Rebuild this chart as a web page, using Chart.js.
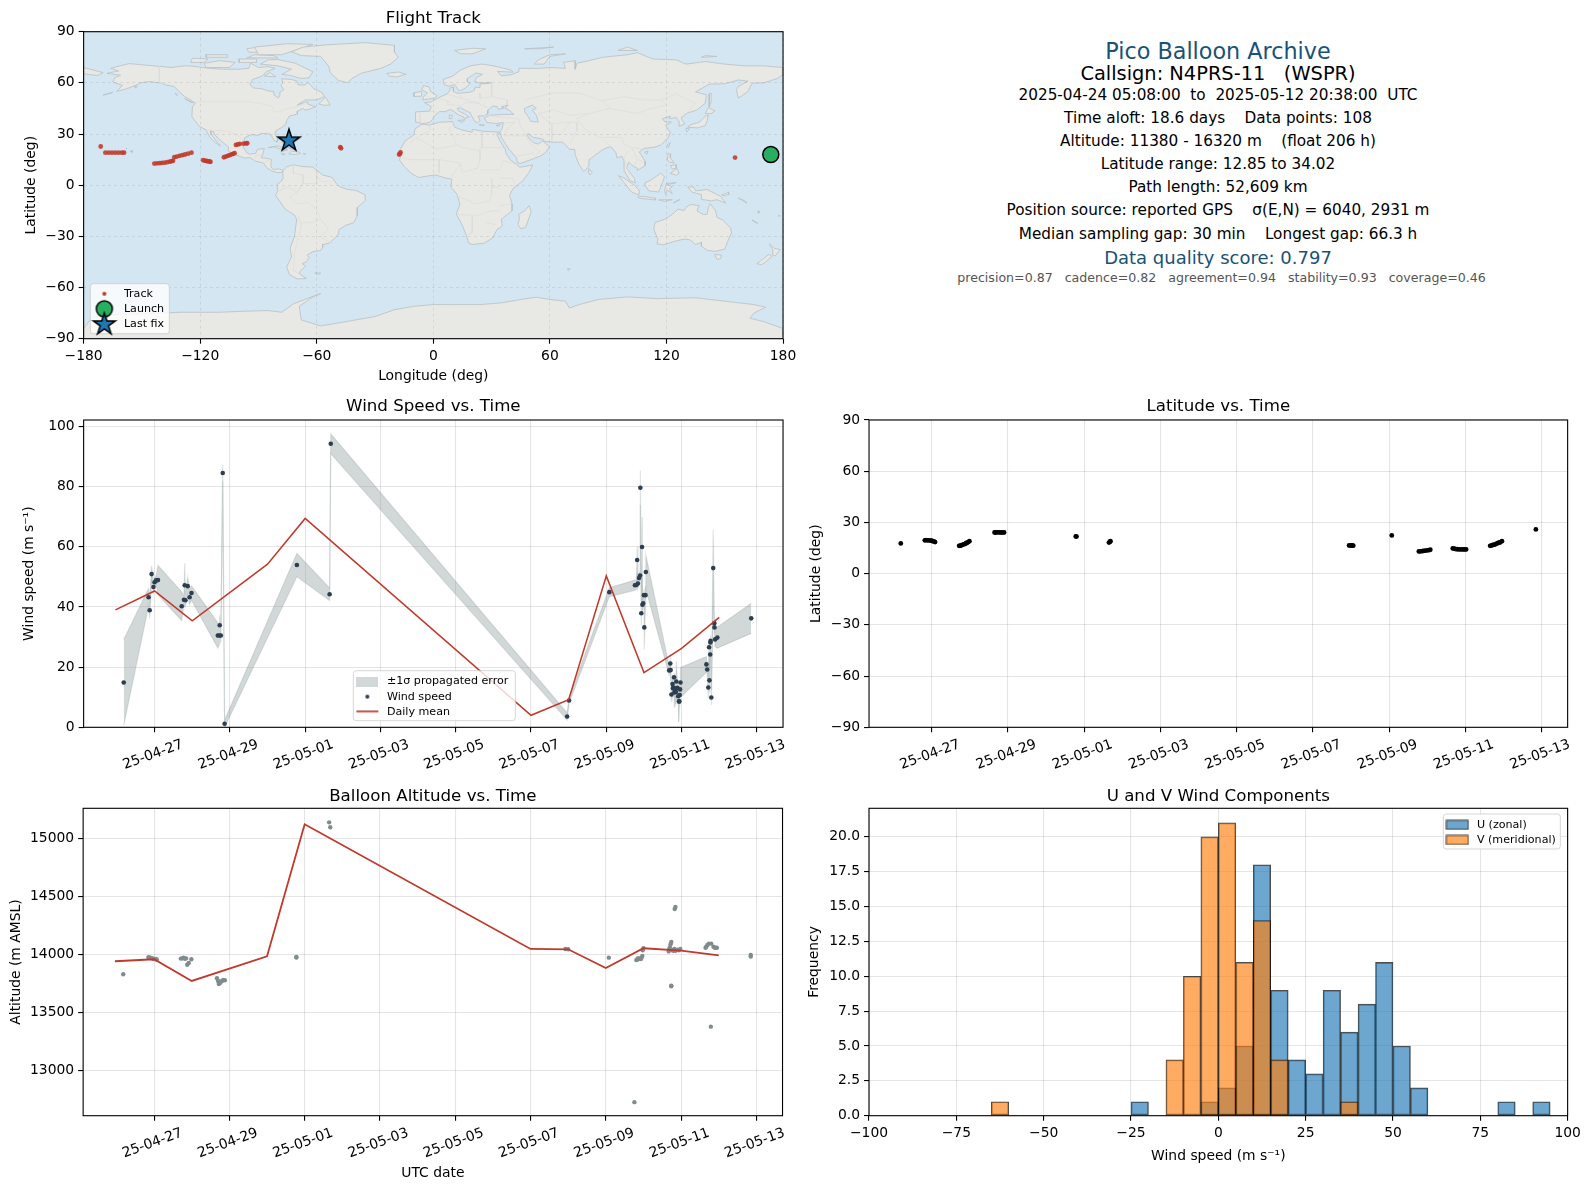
<!DOCTYPE html>
<html><head><meta charset="utf-8">
<style>
html,body{margin:0;padding:0;background:#fff;width:1589px;height:1189px;overflow:hidden;font-family:"DejaVu Sans",sans-serif}
canvas{position:absolute}
.t{position:absolute;left:1218px;transform:translate(-50%,-50%);white-space:pre;color:#000;font-size:15.28px}
</style>
<script src="https://cdn.jsdelivr.net/npm/chart.js@4/dist/chart.umd.min.js"></script>
</head><body>
<div class="t" style="top:50.5px;font-size:22.3px;color:#1a5276">Pico Balloon Archive</div>
<div class="t" style="top:73px;font-size:19.4px">Callsign: N4PRS-11   (WSPR)</div>
<div class="t" style="top:95px">2025-04-24 05:08:00  to  2025-05-12 20:38:00  UTC</div>
<div class="t" style="top:118px">Time aloft: 18.6 days    Data points: 108</div>
<div class="t" style="top:141.3px">Altitude: 11380 - 16320 m    (float 206 h)</div>
<div class="t" style="top:164px">Latitude range: 12.85 to 34.02</div>
<div class="t" style="top:187px">Path length: 52,609 km</div>
<div class="t" style="top:210px">Position source: reported GPS    σ(E,N) = 6040, 2931 m</div>
<div class="t" style="top:233.5px">Median sampling gap: 30 min    Longest gap: 66.3 h</div>
<div class="t" style="top:256.8px;font-size:18px;color:#1a5276">Data quality score: 0.797</div>
<div class="t" style="top:277.3px;left:1221.5px;font-size:12.6px;color:#555">precision=0.87   cadence=0.82   agreement=0.94   stability=0.93   coverage=0.46</div>
<canvas id="cMap"></canvas><canvas id="cWind"></canvas><canvas id="cLat"></canvas><canvas id="cAlt"></canvas><canvas id="cHist"></canvas>
<script>
/* ---------- data ---------- */
const timeTickDays=[0,2,4,6,8,10,12,14,16];
const timeTickLabels=['25-04-27','25-04-29','25-05-01','25-05-03','25-05-05','25-05-07','25-05-09','25-05-11','25-05-13'];
const meanDays=[-1.04,0,1,3,4,10,11,12,13,14,15];
const windMean=[39,45.3,35.4,54.2,69.4,4.0,9.2,50.3,18.2,26.2,36.5];
const altMean=[13940,13957,13770,13983,15121,14046,14043,13882,14052,14032,13991];

const windDays=[-.82,-.16,-.13,-.08,-.03,0,.04,.09,.72,.78,.80,.82,.88,.93,.98,1.68,1.72,1.73,1.76,1.81,1.86,3.78,4.65,4.68,10.96,11.01,12.08,12.76,12.80,12.82,12.84,12.87,12.90,12.905,12.93,12.95,12.96,12.98,13.0,13.01,13.04,13.05,13.67,13.70,13.71,13.73,13.76,13.77,13.79,13.795,13.80,13.81,13.83,13.85,13.86,13.89,13.91,13.93,13.94,13.95,13.96,13.97,14.66,14.68,14.71,14.73,14.74,14.76,14.765,14.77,14.79,14.84,14.87,14.875,14.89,14.95,15.85];
const windSpeed=[14.9,43.2,38.9,50.9,46.6,48.2,48.8,48.9,40.2,42.4,47.2,42.2,46.9,43.2,44.6,30.5,30.5,33.9,30.5,84.5,1.2,53.9,44.2,94.2,3.6,8.9,44.9,47.2,47.3,55.6,47.8,49.6,50.4,79.6,37.9,59.9,40.7,41.2,43.9,33.2,43.9,51.6,18.9,21.2,19,10.9,14.4,13,13,13.1,16.6,11.6,12.6,11.7,15.2,13.1,10.3,8.6,8.6,10.7,12.6,14.9,20.9,19.2,13.2,26.6,15.6,24.2,28.2,28.7,9.9,52.9,34.6,33.2,29.2,29.8,36.2];
const windSigma=[14.3,3,2.5,2.8,2,1.5,1.5,4.9,4.8,1.5,7.3,2,3,2.5,2.4,4.2,3,3.3,2.5,2.8,1.2,3.9,2.1,3.3,1.2,1,1.5,1.7,1.5,4.5,1.5,1.5,1.5,5.7,4,10,2,2,2,7.4,3,5.7,1.5,1.5,1.5,2.5,3,3,2,2,1.5,5,2,4,7,2,2,6.8,2,2,2,5,2.6,1.5,3.5,1.5,4,2,2,2,2.5,12.7,2,2,2.5,3.5,5];

const latDays=[-.81,-.18,-.15,-.11,-.07,-.03,0,.02,.06,.09,.72,.75,.78,.80,.84,.88,.90,.93,.96,.99,1.65,1.68,1.72,1.76,1.8,1.85,1.9,3.78,3.8,4.65,4.68,4.69,10.95,11.0,11.03,11.06,12.07,12.78,12.82,12.87,12.9,12.95,13.0,13.05,13.08,13.67,13.71,13.75,13.79,13.84,13.89,13.94,13.98,14.02,14.65,14.69,14.72,14.76,14.8,14.84,14.88,14.92,14.96,15.85];
const latDeg=[17.7,19.5,19.6,19.5,19.5,19.4,19.3,19,18.9,18.5,16.3,16.4,16.6,16.8,17.1,17.5,17.8,18.1,18.5,19,24.1,24.1,24.2,24.2,24.1,24.1,24.1,21.8,21.7,18.2,18.7,19,16.5,16.5,16.5,16.4,22.4,13,13,13.2,13.3,13.5,13.6,13.8,14,14.8,14.6,14.4,14.3,14.2,14.2,14.2,14.2,14.2,16.3,16.5,16.8,17,17.3,17.8,18.1,18.4,19,25.9];

const altDays=[-.82,-.15,-.12,-.08,-.04,-.01,.03,.05,.07,.71,.75,.78,.82,.85,.88,.92,.99,1.67,1.7,1.72,1.76,1.8,1.84,1.88,3.78,3.78,4.65,4.68,11,10.93,12.08,12.76,12.81,12.84,12.87,12.9,12.93,12.95,12.97,12.85,12.98,13,13.74,13.72,13.7,13.68,13.67,13.76,13.8,13.82,13.85,13.9,13.94,13.98,13.85,13.83,13.74,13.74,14.65,14.67,14.7,14.74,14.8,14.86,14.9,14.95,14.79,15.85,15.85];
const altMeters=[13828,13975,13972,13968,13965,13960,13960,13958,13955,13963,13965,13970,13962,13965,13910,13925,13957,13793,13770,13744,13755,13770,13778,13776,13977,13972,15138,15095,14043,14045,13971,12725,13950,13955,13960,13965,13960,13970,13985,13965,14034,14052,14106,14086,14060,14040,14025,14035,14030,14045,14030,14040,14035,14045,14408,14390,13724,13730,14057,14065,14080,14092,14092,14065,14057,14057,13376,13980,13995];

const trackLon=[-171.2,-168.8,-167.1,-165.4,-163.7,-162,-160.3,-159.2,-143.6,-142.2,-140.8,-139.6,-138.2,-136.9,-135.6,-134.8,-134,-133.3,-132,-130.6,-129.2,-127.8,-126.2,-124.5,-118.5,-117.6,-116.8,-116,-115.2,-114.7,-107.8,-106.8,-105.8,-104.8,-103.8,-103,-102.3,-101.6,-100.6,-99.6,-97.6,-96.4,-95.8,-47.9,-47.5,-17.6,-17.2,-16.9,155.3];
const trackLat=[22.7,19.1,19.1,19.1,19.1,19.1,19.1,19.1,12.7,12.8,12.9,13.1,13.2,13.5,13.8,14.1,14.3,16.4,16.8,17.2,17.6,18,18.5,19.1,14.7,14.4,14.2,14,13.9,13.7,16.4,16.8,17.2,17.6,18.1,18.4,18.8,23.6,23.9,24.2,24.4,24.5,24.6,22.3,21.6,18,18.5,19.2,16.2];
const launchLon=[173.7],launchLat=[18];
const lastLon=[-74.3],lastLat=[26.4];

const binCenters=[];
for(let e=-100;e<100;e+=5)binCenters.push(e+2.5);
const uCounts=[0,0,0,0,0,0,0,0,0,0,0,0,0,0,0,1,0,0,0,1,2,5,18,9,4,3,9,6,8,11,5,2,0,0,0,0,1,0,1,0];
const vCounts=[0,0,0,0,0,0,0,1,0,0,0,0,0,0,0,0,0,4,10,20,21,11,14,4,0,0,0,1,0,0,0,0,0,0,0,0,0,0,0,0];

const mapTicksX=[-180,-120,-60,0,60,120,180];
const mapTicksY=[-90,-60,-30,0,30,60,90];
const windTicks=[0,20,40,60,80,100];
const altTicks=[13000,13500,14000,14500,15000];
const histTicksX=[-100,-75,-50,-25,0,25,50,75,100];
const histTicksY=[0,2.5,5,7.5,10,12.5,15,17.5,20];

/* land and sea outlines, lon/lat */
const northAmerica=[[-168,65.6],[-164,66.5],[-162,67],[-166,68.5],[-163,69.5],[-156.5,71.3],[-148,70.4],[-141,69.7],[-135,69],[-128,70],[-124,69.8],[-115,68.5],[-108,68],[-100,68],[-95,68.5],[-94,71.5],[-90,69],[-85,69.5],[-81.5,68.5],[-86,66.5],[-88,64],[-93,62],[-94.5,59],[-92.5,57],[-88,56.5],[-85,55.3],[-82.2,55],[-82,52.9],[-80,51.3],[-79,52],[-79,54.5],[-77,56],[-78.5,58.7],[-77.5,60],[-78,62.4],[-73,62],[-70,61],[-69.5,58.8],[-66,58.8],[-64.5,60.3],[-61.5,56.5],[-57.5,54.5],[-56,52],[-60,50],[-66,50],[-70,47],[-65,49],[-64.5,47.5],[-60.5,46],[-64,44.5],[-66,44],[-67,45],[-70,43.5],[-70,41.7],[-74,40.6],[-75.5,38],[-76,35.5],[-78,33.9],[-81,32],[-81.5,30],[-80,27],[-80.3,25.3],[-81.8,26],[-82.8,28],[-84,30],[-86,30.4],[-89,30.2],[-90,29.2],[-93.5,29.7],[-97,28],[-97.5,25],[-97.8,22.3],[-96,19],[-94.5,18.2],[-91.5,18.6],[-90.5,21],[-87,21.5],[-87.8,18.2],[-88.7,16],[-86,15.9],[-83.3,15],[-83.7,11],[-82.5,9.2],[-79.5,9.6],[-77.3,8.6],[-78,7.5],[-80.3,7.3],[-83,8.3],[-85.5,10],[-87.5,13],[-91.5,14],[-94.5,16.2],[-97,15.9],[-101.5,17.6],[-105.5,20],[-105.5,22.5],[-109,25.7],[-112.5,29.5],[-113,31.3],[-114.8,31.8],[-114.5,30],[-111.5,25.5],[-109.5,23],[-112,24.8],[-115,28],[-117,32.5],[-120.5,34.5],[-122.5,37.5],[-124.3,40.3],[-124,46],[-122.5,48],[-125,50],[-128,52],[-130.5,54.5],[-133.5,58],[-137,58.5],[-140,59.8],[-146,60.8],[-151,60],[-152,59],[-154,58.2],[-158,56.5],[-163,55],[-160,58.5],[-165,60.5],[-164,63],[-161,64.5],[-168,65.6]];
const southAmerica=[[-77.3,8.6],[-75.5,10.8],[-72,12],[-68,11],[-62,10.6],[-57,6],[-52,4.5],[-50,1],[-48,-1],[-44,-2.5],[-40,-3],[-35.2,-5.5],[-35,-9],[-39,-13],[-39.2,-18],[-41,-22],[-45,-23.5],[-48.5,-26],[-49,-29],[-53.5,-34],[-57,-34.8],[-57,-36.5],[-58,-38.3],[-62,-39],[-65,-41],[-63.8,-42.5],[-65.5,-45],[-67.5,-46],[-65.8,-47.5],[-69,-51],[-68.3,-52.5],[-65.3,-54.7],[-70,-55],[-74,-52.5],[-75.5,-48],[-73,-42],[-73.7,-37],[-71.5,-30],[-70.3,-20],[-71.5,-17.5],[-76.3,-14],[-81.2,-6],[-80,-3],[-80.5,0.5],[-78.5,2],[-77.3,4],[-77.5,7],[-77.3,8.6]];
const africa=[[-5.9,35.8],[-2,35.2],[3,36.9],[10,37.3],[11,34],[15,32.3],[20,31],[20,32.8],[25,31.7],[32,31.2],[34.2,31],[32.6,29.9],[34,26.5],[37,21],[37.5,18.5],[39.5,15],[43,12],[44.5,10.5],[51.2,11.8],[49,7],[45.5,2],[41,-2],[39.2,-6],[40.5,-11],[40.5,-15],[35,-20],[35.5,-24],[32.8,-26],[30.5,-31],[26,-34],[20,-34.8],[18.3,-34],[17,-29.5],[14.5,-22.5],[11.8,-17],[13.7,-11],[12,-5],[9,-1],[9.5,3.5],[6,4.3],[1,6],[-4,5.2],[-7.5,4.5],[-11.5,7],[-15,11],[-17.4,14.7],[-16.3,19.5],[-17,21],[-14.5,26],[-10,29.5],[-9.5,33],[-5.9,35.8]];
const eurasia=[[-5.5,36.1],[-9,37],[-9.3,39],[-9,43],[-2,43.4],[-1,46],[-4.5,48.4],[-1.5,48.7],[1.5,50.5],[4,52],[7,53.5],[8.5,55.5],[8.5,57],[10.5,57.5],[10.3,55],[12,54],[14,54],[19,54.5],[21,55.5],[21.5,57.5],[24,57.2],[24,59.3],[30,60],[23,60],[21.3,61],[22,63],[25.3,65],[22,65.8],[17.5,62.5],[17.5,60.5],[19,59.7],[16.5,57],[14.3,55.5],[12.8,55.8],[11,59],[8,58],[5.5,59],[5,62],[10,64],[14,67.5],[19,70],[25,71],[31,70],[40,67.5],[41,66.3],[33,66.7],[35,64.2],[40,64.7],[44,66.5],[44,68.5],[54,68.5],[60,69],[68,68.5],[67,72],[73,73],[73,68],[74,71.5],[80,73],[87,75],[100,76.5],[105,77.7],[113,74],[125,73.5],[130,71],[140,72.5],[150,71],[160,70],[170,70],[180,69],[180,65],[177,62.5],[170,60],[164,59.8],[163,57.5],[162,55],[157,51],[156,56],[157,58],[162,61],[157,61.7],[150,59.5],[142,59.2],[135,54.7],[140.5,53],[140,48],[135.5,44],[130.7,42.3],[127.5,39.5],[129.4,36],[126.5,34.5],[126.5,37.5],[125,39.7],[121.5,39],[122,40.5],[118,39],[119,37.3],[122.5,37],[119.5,35],[122,31],[121,28],[117,23.5],[113.5,22.2],[108.5,21.6],[106,19.5],[109,14],[109,11.5],[105,8.7],[105,10],[103,11],[100.5,13.5],[99.5,10],[103.5,4],[104,1.3],[101,3],[98.5,8],[98.2,14],[97,17],[94.5,16],[94,19],[91.5,22.5],[89,21.8],[86.7,20.5],[82.3,16.7],[80.2,15],[80,11],[77.5,8],[75,12],[73,18],[72.7,21],[70,21],[68,23.7],[66.5,25.3],[61.5,25.2],[57,25.8],[56.5,27],[51.5,28],[48.8,30.3],[48,29.5],[50,26.5],[51.5,25],[54,24.1],[56.3,26],[59.8,22.5],[57.7,19],[55,17],[52,15.7],[45,12.8],[43.3,13],[42.8,16],[39,21],[35,28],[34.8,29.5],[34.2,31],[35.5,33.5],[36,36.7],[32,36.2],[27.5,36.8],[26.3,39.5],[29,41],[31.3,41.2],[36,41.5],[41.5,41.5],[39,44],[37,45.2],[38.5,47],[35,46],[36.5,45.2],[33.5,44.5],[33,46],[30.7,46.5],[28,44],[28,41.8],[26,40.7],[23,40.5],[24,38],[22.8,36.5],[21.3,37.5],[19.5,41],[19,42.5],[13.7,45.5],[12.3,45],[13,43.5],[16,41.8],[18.4,40],[16.5,39.5],[16,38],[15.6,40],[12.5,41.5],[10.3,43.5],[8.7,44.4],[6,43.1],[3.3,43.2],[0.5,40.5],[-0.3,38.5],[-2,36.8],[-5.5,36.1]];
const chukotka=[[-180,69],[-175,67.5],[-170,66],[-173,64.3],[-180,65.3],[-180,69]];
const australia=[[114,-22],[113.5,-26],[115.7,-32],[115,-34.3],[118,-35],[124,-33],[129,-31.6],[132,-32],[135,-34.8],[138,-33.5],[138,-35.7],[141,-38.2],[145,-38.8],[150,-37.5],[151.5,-33],[153.5,-28],[153,-25],[149,-20.5],[146,-18.8],[145.3,-15],[142.5,-10.8],[141.5,-13],[141,-17],[139,-17.2],[135.7,-15],[136.8,-12],[132.5,-11.3],[130,-13],[129,-15],[126,-14],[122.5,-17.5],[119,-20],[114,-22]];
const greenland=[[-73,78.2],[-67,81],[-55,82.3],[-35,83.6],[-20,82],[-20,78],[-18,75],[-22,71],[-27,68.5],[-37,65.7],[-42,62.5],[-44,60],[-49,61.5],[-53,66],[-54,70],[-58,75.5],[-68,76],[-73,78.2]];
const antarctica=[[-180,-84],[-176,-78],[-170,-76],[-150,-75.5],[-130,-74.5],[-110,-74.5],[-100,-74],[-85,-73.5],[-78,-74.5],[-72,-69.5],[-58,-63.5],[-62,-65.5],[-69,-71],[-68,-79],[-58,-82.5],[-45,-80],[-30,-77],[-20,-73],[-10,-71],[0,-70],[10,-70],[24,-70],[35,-69],[45,-67],[53,-65.7],[60,-67],[68,-68],[70,-72],[75,-70],[85,-67],[100,-65.5],[115,-66.5],[135,-66],[150,-68],[165,-70],[171,-71.5],[165,-75],[163,-78],[170,-80],[180,-84],[180,-90],[-180,-90],[-180,-84]];
const islands=[
[[49.3,-12],[50.4,-15.5],[47.5,-24.8],[45,-25.5],[43.5,-23],[44.3,-20],[44,-17],[47,-15]],
[[-5.5,50],[1.3,51.2],[1.7,52.7],[-1.5,55],[-2,57.5],[-5,58.5],[-6,56],[-3,54],[-5,52]],
[[-10,52],[-6,52.2],[-6,55],[-10,54.2]],
[[-24,65.5],[-18,66.4],[-14,65],[-19,63.4],[-22.5,64]],
[[130.9,34],[136,33.6],[140,35],[141,38],[141.5,41.2],[140,40.5],[137,37],[132.5,35.5]],
[[140,42],[141.5,45.5],[145,43.5],[143,42]],
[[130,33.5],[131.8,33],[130.5,31.2]],
[[142,46],[143,49],[143,54],[142,53.5]],
[[121,22],[122,25],[120.2,23.5]],
[[108.7,19.3],[110.5,20],[110,18.3]],
[[80,9.8],[81.8,7.5],[80.5,6],[79.8,8]],
[[120.3,16],[120.7,18.5],[122.2,18.3],[122,16],[124,13],[121,13.8]],
[[122,7],[125.5,9.7],[126.5,7],[125,5.8]],
[[122,11.5],[125,12],[125,10],[123,9.5]],
[[109,1.5],[111.5,2.7],[114,4.6],[117,7],[119,5],[117.7,1],[116,-4],[111,-3.3],[109.2,-.5]],
[[95.3,5.6],[98,4.3],[103.5,0],[106,-3],[105.8,-5.8],[102,-4],[98.5,1]],
[[105.2,-6.8],[108.5,-6.6],[114.5,-7.7],[114.3,-8.7],[106,-7.6]],
[[119.5,-5.5],[120.5,-2.8],[123,-5],[121.5,-2],[123,-1],[120.5,.3],[125,1.5],[120,1],[119,-3]],
[[131,-1],[134,-1],[135,-3.3],[141,-2.6],[146,-5.5],[147.8,-6.5],[150.5,-10.5],[146,-8.5],[143,-9.2],[138,-8.3],[138,-5.5],[133,-4]],
[[116,-8.6],[119,-8.5],[123,-8.5],[119,-9.5]],
[[123.6,-10.3],[127,-8.4],[125,-9.5]],
[[148.5,-5.6],[152,-4.2],[152,-5.5],[149,-6.2]],
[[157,-7.5],[160,-9],[161.5,-10.5],[159,-9]],
[[164,-20.2],[167,-22.3],[165.5,-21.8]],
[[173,-34.5],[175.5,-37],[178.5,-37.8],[176,-41.5],[174.8,-41],[174.7,-38]],
[[172.7,-40.6],[174.3,-41.7],[171,-45],[169,-46.6],[166.5,-46],[170,-43]],
[[144.7,-40.7],[148.3,-40.9],[147.8,-43.2],[146,-43.5]],
[[69,-49],[70.5,-49],[69.5,-50]],
[[-61,-51.5],[-58,-51.5],[-59,-52.3]],
[[-85,22],[-80,23.1],[-75,20.7],[-77.5,19.9],[-78,21],[-82,22.5]],
[[-74.4,18.4],[-73,19.9],[-69,19.5],[-68.4,18.6],[-71,18]],
[[-78.3,18.4],[-76.3,18.2],[-77,17.8]],
[[-67,18.5],[-65.6,18.3],[-66.5,18]],
[[-78,25],[-77,26.5],[-76,24.5]],
[[-75,22.5],[-73,21],[-74,21.5]],
[[-59,47.7],[-55.5,51.6],[-53,47],[-56,46.8]],
[[-128,50.7],[-123.5,48.4],[-125,48.7]],
[[-133,54],[-131.5,53],[-132,52.5]],
[[-80,73.7],[-71,71.5],[-62,66.5],[-64,63],[-68,62.5],[-74,64.5],[-78,65],[-73,68],[-80,70],[-89,71],[-85,73.5]],
[[-117,69],[-105,69],[-102,72],[-110,73],[-118,71.5]],
[[-125,72],[-118,72],[-116,74],[-124,74.5]],
[[-90,76.5],[-78,76.5],[-62,82.5],[-75,83],[-92,81]],
[[-96,74.7],[-80,74.6],[-82,76],[-92,76.5]],
[[-117,75],[-106,75],[-106,76.5],[-117,76.5]],
[[-95,78],[-88,78],[-90,81],[-96,80]],
[[-87,64],[-81,63.5],[-84,66]],
[[-100,72],[-91,72],[-91,74],[-100,74]],
[[11,79],[20,80.3],[27,80],[20,77],[14,77]],
[[52,71],[57,71],[60,75.5],[68,77],[60,76.5],[54,73.5]],
[[95,79],[105,79],[100,81]],
[[138,75],[146,75.5],[140,76]],
[[47,80],[62,81],[55,80]],
[[-156,19.8],[-155,20.2],[-155,19.3]],
[[-158.2,21.5],[-157.7,21.6],[-158,21.3]],
[[12.5,38],[15.5,38.2],[15,36.8]],
[[8.2,41],[9.7,41],[9.5,39.2],[8.5,39]],
[[23.5,35.5],[26.3,35.2],[25,35]],
[[32.3,35],[34.5,35.6],[33.5,34.7]],
[[-170,52.8],[-166,53.9],[-165,54.5],[-168,53.5]],
[[-154,57.8],[-152.5,58],[-153,57]],
[[167.5,-15],[167.2,-16],[168,-16.2]],
[[178,-17.5],[178.6,-18],[177.5,-18.2]]
];
const caspian=[[47,45],[51,47],[53,45],[51,44],[53,41],[54,37],[50,37.5],[49,40],[47,43],[47,45]];
const borderLines=[
[[-123,49],[-95,49],[-89,48],[-83,46],[-82,43],[-79,43],[-75,45],[-70,46],[-67,47.5]],
[[-141,69.7],[-141,60],[-135,58.8]],
[[-117,32.5],[-106.5,31.7],[-101,29.5],[-97.5,26]],
[[-92,14.5],[-91,17.8],[-89,17.8],[-88.5,15.7]],
[[-87.5,13],[-85,14.5],[-83.5,15]],
[[-72,12],[-72,7],[-67,6],[-67,1],[-70,-4]],
[[-60,8],[-60,5],[-60,1],[-67,1],[-70,-4],[-74,-7],[-70,-11],[-65,-10],[-60,-14],[-58,-20],[-55,-24],[-54,-26],[-58,-30],[-53.5,-33.5]],
[[-69.5,-18],[-68,-24],[-70,-33],[-71.5,-40],[-72,-50],[-69,-52]],
[[-68,-22],[-62,-22],[-58,-20]],
[[-80,-3.5],[-75,-1],[-70,-4]],
[[-60,5],[-57,2],[-52,2.5]],
[[-8.7,27.7],[-4,25],[1.2,21],[12,23.5],[14,22.5],[24,20],[24,22],[36,22]],
[[24,20],[24,15],[23,10],[15,7.5],[14,12.5]],
[[9.5,30],[12,23.5]],
[[-12,25],[-8.7,27.7],[-2,32],[-1.5,35]],
[[25,31.5],[25,22]],
[[11,37],[8,33],[9.5,30]],
[[14,13],[3,15],[-5,15],[-12,15],[-16,16]],
[[3,15],[3,7]],
[[9,4],[14,12.5]],
[[24,9],[34,9],[36,14.5],[43,12]],
[[34,4],[41,4],[42,-1]],
[[30,4],[30,-5],[29,-9],[22,-11],[12,-6]],
[[34,-1],[30,-1]],
[[34,-12],[40,-11]],
[[12,-17],[22,-18],[30,-15],[34,-15]],
[[20,-18],[20,-28],[17,-29]],
[[27,-22],[32,-23]],
[[3,51],[8,49],[7,47.5],[10,47],[14,46.5],[17,48.5],[23,48],[28,45.5]],
[[-2,43.4],[3,42.5]],
[[-7,42],[-7,37]],
[[7,53.5],[14.3,51],[14,54]],
[[14.3,51],[19,49.5],[24,48]],
[[24,54],[24,51],[30,52],[38,50],[38,47]],
[[30,60],[30,52]],
[[47,49],[50,51],[62,54],[75,54],[87,49.5]],
[[87,49.5],[98,52],[108,50],[117,50],[125,53.5],[135,48],[131,43]],
[[87,49.5],[91,45],[105,42],[112,45],[120,47],[117,50]],
[[91,45],[80,42],[74,39],[78,33],[85,28],[97,28],[98,24],[102,22],[107,21.5]],
[[44,39],[45,34],[48,30]],
[[61,36],[61,26]],
[[61,36],[70,37],[74,37]],
[[70,37],[66,30],[61,29.5]],
[[74,37],[74,32],[70,24]],
[[88,26],[92,22]],
[[36,29],[47,29],[52,22],[55,20],[52,16]],
[[43,17],[52,19]],
[[26,41],[44,39]],
[[36,36.5],[42,37],[38,33],[36,29]],
[[100,20],[98,16],[101,6]],
[[102,22],[105,15],[103,11]],
[[108,14],[105,15]],
[[54,42],[62,44],[70,41],[80,42]],
[[54,42],[61,36]]
];

/* ---------- helpers ---------- */
Chart.defaults.font.family='"DejaVu Sans"';
Chart.defaults.color='#000';
Chart.defaults.animation=false;
const TICK=13.89, LAB=13.89, TTL=16.67, LEG=11.11;
const GRID='rgba(0,0,0,0.1)';
const minus=v=>String(v).replace('-','\u2212');
const pts=(xs,ys)=>xs.map((x,i)=>({x,y:ys[i]}));
const lonlat=a=>a.map(p=>({x:p[0],y:p[1]}));
function swatch(w,h,fn){const c=document.createElement('canvas');c.width=w;c.height=h;fn(c.getContext('2d'),w,h);return c;}
function starPath(g,cx,cy,R){const r=R*0.382;g.beginPath();for(let i=0;i<10;i++){const a=-Math.PI/2+i*Math.PI/5,q=i%2?r:R;g.lineTo(cx+q*Math.cos(a),cy+q*Math.sin(a));}g.closePath();}
const starImg=()=>swatch(28,28,(g)=>{starPath(g,14,14.5,11.5);g.fillStyle='#1f77b4';g.fill();g.strokeStyle='#000';g.lineWidth=1.5;g.stroke();});
const tickSet=list=>s=>{s.ticks=list.map(v=>({value:v}));};

function panel(id,box,o){
  const left=o.yLabelX-LAB*1.2/2, right=box.r+20, top=o.titleY-TTL*1.2/2, bottom=o.bottom;
  const c=document.getElementById(id);
  c.width=Math.round(right-left);c.height=Math.round(bottom-top);
  c.style.left=left+'px';c.style.top=top+'px';
  const axW=box.l-left, axH=top+c.height-box.b;
  const plug={id:'frame'+id,
    beforeLayout(ch_){ if(o.legend&&ch_.legend){ ch_.legend._layers=()=>[{z:5,draw(a){const f=o.legend.frame,g=ch_.ctx;g.save();g.beginPath();g.roundRect(f.x-left,f.y-top,f.w,f.h,3);g.fillStyle='rgba(255,255,255,0.8)';g.fill();g.strokeStyle='rgba(204,204,204,0.8)';g.lineWidth=1;g.stroke();g.restore();ch_.legend.draw(a);}}]; } },
    afterLayout(ch_){ if(o.legend&&ch_.legend){const f=o.legend.frame,l=ch_.legend;l.left=f.x-left-4;l.top=f.y-top+(o.legend.dy||0);l.right=f.x-left+f.w;l.bottom=f.y-top+f.h+30;} },
    beforeDraw(ch_){ if(o.bg){const a=ch_.chartArea,g=ch_.ctx;g.save();g.fillStyle=o.bg;g.fillRect(a.left,a.top,a.width,a.height);g.restore();} },
    afterDraw(ch_){const a=ch_.chartArea,g=ch_.ctx;g.save();g.strokeStyle='#000';g.lineWidth=1.1;g.strokeRect(a.left,a.top,a.width,a.height);g.restore();}
  };
  return new Chart(c,{type:o.type||'scatter',plugins:[plug],data:{datasets:o.datasets},options:{
    responsive:false,devicePixelRatio:1,events:[],animation:false,
    layout:{autoPadding:false,padding:{left:0,right:c.width-(box.r-left),top:0,bottom:0}},
    plugins:{
      tooltip:{enabled:false},
      title:{display:true,text:o.title,fullSize:false,font:{size:TTL,weight:'normal',lineHeight:1.2},color:'#000',padding:{top:0,bottom:box.t-top-TTL*1.2}},
      legend:o.legend?{display:true,position:'chartArea',align:'start',labels:{font:{size:LEG},color:'#000',boxWidth:28,boxHeight:11,pointStyleWidth:28,usePointStyle:true,padding:4,generateLabels:()=>o.legend.items.map(it=>({text:it[0],pointStyle:it[1],hidden:false,lineWidth:0,fontColor:'#000'}))}}:{display:false}
    },
    scales:{
      x:{type:'linear',min:o.x.min,max:o.x.max,offset:false,afterBuildTicks:tickSet(o.x.ticks),afterFit:s=>{s.height=axH;s.paddingLeft=0;s.paddingRight=0;},
        grid:{offset:false,color:o.gridColor||GRID,lineWidth:o.gridW||1.1,tickColor:'#000',tickLength:5,drawTicks:true,tickWidth:1.1,z:o.gridZ||0},
        border:{display:false,dash:o.dash||[]},
        title:o.x.title?{display:true,text:o.x.title,font:{size:LAB,lineHeight:1.2},color:'#000',padding:{top:0,bottom:0}}:{display:false},
        ticks:{font:{size:TICK},color:'#000',autoSkip:false,padding:o.x.pad||4,maxRotation:o.x.rot||0,minRotation:o.x.rot||0,labelOffset:o.x.off||0,callback:o.x.cb||minus}},
      y:{type:'linear',min:o.y.min,max:o.y.max,afterBuildTicks:tickSet(o.y.ticks),afterFit:s=>{s.width=axW;s.paddingTop=0;s.paddingBottom=0;},
        grid:{color:o.gridColor||GRID,lineWidth:o.gridW||1.1,tickColor:'#000',tickLength:5,drawTicks:true,tickWidth:1.1,z:o.gridZ||0},
        border:{display:false,dash:o.dash||[]},
        title:{display:true,text:o.y.title,font:{size:LAB,lineHeight:1.2},color:'#000',padding:{top:0,bottom:0}},
        ticks:{font:{size:TICK},color:'#000',autoSkip:false,padding:4,callback:o.y.cb||minus}}
    }}});
}
const timeCb=v=>timeTickLabels[timeTickDays.indexOf(v)];
const timeX={min:-1.885,max:16.695,ticks:timeTickDays,rot:20,off:28,cb:timeCb};

/* ---------- map ---------- */
const LAND='#e8e8e4',OCEAN='#d4e6f1',COAST='#b9c0c3',BORDER='#dcdcd8';
const polys=[northAmerica,southAmerica,africa,eurasia,chukotka,australia,greenland,antarctica,...islands];
const mapSets=[];
polys.forEach(p=>{const q=p.slice();if(q[0]!==q[q.length-1])q.push(q[0]);mapSets.push({data:lonlat(q),showLine:true,fill:'shape',backgroundColor:LAND,borderColor:COAST,borderWidth:.8,pointRadius:0,order:10,tension:0});});
mapSets.push({data:lonlat(caspian),showLine:true,fill:'shape',backgroundColor:OCEAN,borderColor:COAST,borderWidth:.8,pointRadius:0,order:9});
borderLines.forEach(b=>mapSets.push({data:lonlat(b),showLine:true,fill:false,borderColor:BORDER,borderWidth:.7,pointRadius:0,order:8}));
mapSets.push({data:pts(trackLon,trackLat),pointRadius:2.4,pointBackgroundColor:'rgba(192,57,43,0.88)',pointBorderWidth:0,order:3});
mapSets.push({data:pts(launchLon,launchLat),pointRadius:8,pointBackgroundColor:'#27ae60',pointBorderColor:'#000',pointBorderWidth:1.5,order:2});
mapSets.push({data:pts(lastLon,lastLat),pointStyle:starImg(),pointRadius:12,order:1});
panel('cMap',{l:83.3,t:31.5,r:782.7,b:338.5},{
  title:'Flight Track',titleY:18.8,yLabelX:31,bottom:385,bg:OCEAN,gridZ:1,gridColor:'rgba(110,110,110,0.17)',gridW:.9,dash:[3,3],
  x:{min:-180,max:180,ticks:mapTicksX,title:'Longitude (deg)'},
  y:{min:-90,max:90,ticks:mapTicksY,title:'Latitude (deg)'},
  datasets:mapSets,
  legend:{dy:.5,frame:{x:90,y:283.5,w:79,h:50},items:[
    ['Track',swatch(8,8,g=>{g.fillStyle='#c0392b';g.beginPath();g.arc(4,4,2,0,7);g.fill();})],
    ['Launch',swatch(20,20,g=>{g.fillStyle='#27ae60';g.strokeStyle='#000';g.lineWidth=1.5;g.beginPath();g.arc(10,10,8,0,7);g.fill();g.stroke();})],
    ['Last fix',starImg()]]}
});

/* ---------- wind ---------- */
const bandCol='rgba(127,140,141,0.35)',bandEdge='rgba(127,140,141,0.22)';
panel('cWind',{l:83.3,t:420.3,r:782.7,b:727.6},{
  title:'Wind Speed vs. Time',titleY:407.3,yLabelX:29,bottom:800,
  x:timeX,y:{min:0,max:102.1,ticks:windTicks,title:'Wind speed (m s\u207B\u00B9)'},
  datasets:[
    {data:pts(windDays,windSpeed.map((v,i)=>v+windSigma[i])),showLine:true,fill:'+1',backgroundColor:bandCol,borderColor:bandEdge,borderWidth:1.2,pointRadius:0,order:5},
    {data:pts(windDays,windSpeed.map((v,i)=>Math.max(0,v-windSigma[i]))),showLine:true,fill:false,borderColor:bandEdge,borderWidth:1.2,pointRadius:0,order:5},
    {data:pts(windDays,windSpeed),pointRadius:2.3,pointBackgroundColor:'#2c3e50',pointBorderWidth:0,order:2},
    {data:pts(meanDays,windMean),showLine:true,borderColor:'#c0392b',borderWidth:1.5,pointRadius:0,order:1}
  ],
  legend:{dy:1.3,frame:{x:353,y:671,w:162,h:50},items:[
    ['\u00B11\u03C3 propagated error',swatch(22,10,g=>{g.fillStyle=bandCol;g.fillRect(0,0,22,10);})],
    ['Wind speed',swatch(6,6,g=>{g.fillStyle='#2c3e50';g.beginPath();g.arc(3,3,2,0,7);g.fill();})],
    ['Daily mean',swatch(24,3,g=>{g.fillStyle='#c0392b';g.fillRect(1,0.5,22,1.6);})]]}
});

/* ---------- latitude ---------- */
panel('cLat',{l:868.7,t:420.3,r:1567.3,b:727.6},{
  title:'Latitude vs. Time',titleY:407.3,yLabelX:816,bottom:800,
  x:Object.assign({},timeX,{min:-1.643,max:16.683}),y:{min:-90,max:90,ticks:mapTicksY,title:'Latitude (deg)'},
  datasets:[{data:pts(latDays,latDeg),pointRadius:2.4,pointBackgroundColor:'#000',pointBorderWidth:0}]
});

/* ---------- altitude ---------- */
panel('cAlt',{l:83.3,t:808.3,r:782.7,b:1115.7},{
  title:'Balloon Altitude vs. Time',titleY:797,yLabelX:16.5,bottom:1181.5,
  x:Object.assign({},timeX,{title:'UTC date'}),y:{min:12608,max:15259,ticks:altTicks,title:'Altitude (m AMSL)'},
  datasets:[
    {data:pts(altDays,altMeters),pointRadius:2.2,pointBackgroundColor:'#7f8c8d',pointBorderWidth:0,order:2},
    {data:pts(meanDays,altMean),showLine:true,borderColor:'#c0392b',borderWidth:1.8,pointRadius:0,order:1}
  ]
});

/* ---------- histogram ---------- */
const uFill='rgba(31,119,180,0.65)',vFill='rgba(255,127,14,0.65)',edge='rgba(0,0,0,0.7)';
const rectImg=c=>swatch(24,11,g=>{g.fillStyle=c;g.fillRect(1,1,22,9);g.strokeStyle=edge;g.lineWidth=1;g.strokeRect(1,1,22,9);});
panel('cHist',{l:868.7,t:808.3,r:1567.3,b:1115.7},{
  type:'bar',title:'U and V Wind Components',titleY:797,yLabelX:814,bottom:1164.5,
  x:{min:-100,max:100,ticks:histTicksX,title:'Wind speed (m s\u207B\u00B9)'},
  y:{min:0,max:22.05,ticks:histTicksY,title:'Frequency',cb:v=>v.toFixed(1)},
  datasets:[
    {data:pts(binCenters,uCounts),backgroundColor:uFill,borderColor:edge,borderWidth:1,borderSkipped:false,grouped:false,barPercentage:1,categoryPercentage:1,order:2},
    {data:pts(binCenters,vCounts),backgroundColor:vFill,borderColor:edge,borderWidth:1,borderSkipped:false,grouped:false,barPercentage:1,categoryPercentage:1,order:1}
  ],
  legend:{dy:1.3,frame:{x:1443,y:814,w:117,h:35},items:[['U (zonal)',rectImg(uFill)],['V (meridional)',rectImg(vFill)]]}
});
</script>
</body></html>
